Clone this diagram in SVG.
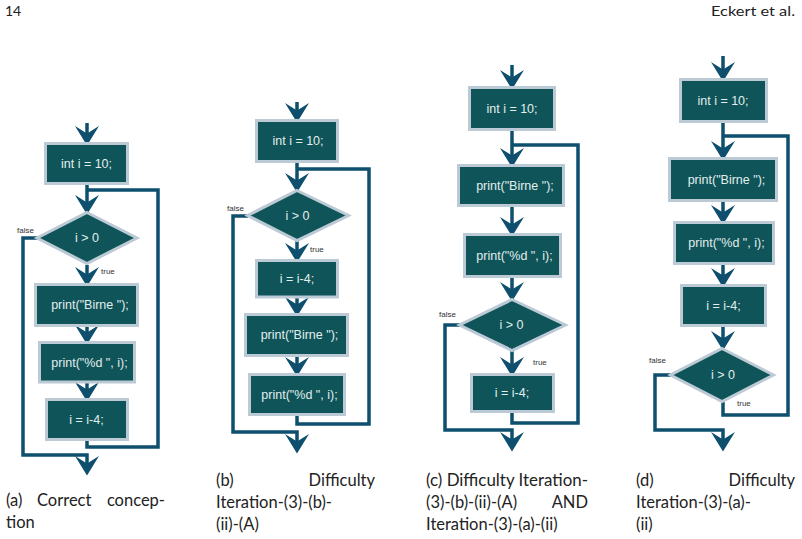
<svg xmlns="http://www.w3.org/2000/svg" width="802" height="539" viewBox="0 0 802 539">
<style>
.box{fill:#0e5458;stroke:#bccad5;stroke-width:3}
.bt{font-family:"Liberation Sans",Arial,sans-serif;font-size:12.5px;fill:#e3eeee;text-anchor:middle}
.lbl{font-family:"Liberation Sans",Arial,sans-serif;font-size:8px;fill:#333}
.con{fill:none;stroke:#0d4f6d;stroke-width:3.5}
.arr{fill:none;stroke:#0d4f6d;stroke-width:3.5;marker-end:url(#ah)}
.cap{font-family:Lato,"Open Sans",sans-serif;font-size:16.5px;fill:#222}
.hdr{font-family:Lato,"Open Sans",sans-serif;font-size:14px;fill:#222}
</style>
<defs>
<marker id="ah" markerUnits="userSpaceOnUse" markerWidth="30" markerHeight="30" viewBox="-10 -10 20 20" refX="0" refY="0" orient="auto" overflow="visible">
<path d="M7,0 L-6,-8 L-1,0 L-6,8 Z" fill="#0d4f6d"/>
</marker>
</defs>
<rect width="802" height="539" fill="#fff"/>
<text class="hdr" x="5" y="16">14</text>
<text class="hdr" x="795" y="16" text-anchor="end" textLength="84" lengthAdjust="spacingAndGlyphs">Eckert et al.</text>

<g id="connectors">
<!-- panel a -->
<path class="arr" d="M87,123 V135"/>
<path class="arr" d="M87,185 V204"/>
<path class="con" d="M87,441 V447 H158 V190 H87"/>
<path class="arr" d="M37,238 H23 V455 H87 V465"/>
<path class="arr" d="M87,265 V276"/>
<path class="arr" d="M87,327 V334"/>
<path class="arr" d="M87,383 V391"/>
<!-- panel b -->
<path class="arr" d="M297,102 V112"/>
<path class="arr" d="M297,163 V182"/>
<path class="con" d="M297,416 V424 H369 V169 H297"/>
<path class="arr" d="M248,216 H233 V432 H297 V443"/>
<path class="arr" d="M297,241 V252"/>
<path class="arr" d="M297,298 V306"/>
<path class="arr" d="M297,357 V366"/>
<!-- panel c -->
<path class="arr" d="M512,65 V79"/>
<path class="arr" d="M512,131 V157"/>
<path class="con" d="M512,413 V423 H578 V145 H512"/>
<path class="arr" d="M512,207 V226"/>
<path class="arr" d="M512,278 V291"/>
<path class="arr" d="M460,325 H445 V430 H512 V441"/>
<path class="arr" d="M512,351 V366"/>
<!-- panel d -->
<path class="arr" d="M723,56 V71"/>
<path class="arr" d="M723,123 V150"/>
<path class="con" d="M723,402 V415 H788 V136 H723"/>
<path class="arr" d="M723,202 V214"/>
<path class="arr" d="M723,265 V277"/>
<path class="arr" d="M723,327 V340"/>
<path class="arr" d="M671,375 H655 V430 H723 V441"/>
</g>

<!-- panel a nodes -->
<g id="a-init"><rect class="box" x="45.5" y="143.5" width="82" height="40"/><text class="bt" x="86.5" y="167.5">int i = 10;</text></g>
<g id="a-cond"><polygon class="box" points="87,212.5 137,238 87,263.5 37,238"/><text class="bt" x="87" y="242">i &gt; 0</text>
<text class="lbl" x="17" y="233">false</text><text class="lbl" x="101" y="274">true</text></g>
<g id="a-birne"><rect class="box" x="35.5" y="284.5" width="102" height="41"/><text class="bt" x="90" y="309">print("Birne ");</text></g>
<g id="a-print"><rect class="box" x="39.5" y="342.5" width="95" height="39.5"/><text class="bt" x="89.5" y="366.5">print("%d ", i);</text></g>
<g id="a-dec"><rect class="box" x="46.5" y="399.5" width="81" height="40"/><text class="bt" x="86.5" y="423.5">i = i-4;</text></g>

<!-- panel b nodes -->
<g id="b-init"><rect class="box" x="256.5" y="120.5" width="81" height="41"/><text class="bt" x="298" y="145">int i = 10;</text></g>
<g id="b-cond"><polygon class="box" points="297,190.5 348.5,215.5 297,240.5 247.5,215.5"/><text class="bt" x="297.5" y="219.5">i &gt; 0</text>
<text class="lbl" x="227" y="211">false</text><text class="lbl" x="310" y="252">true</text></g>
<g id="b-dec"><rect class="box" x="256.5" y="260.5" width="81" height="36.5"/><text class="bt" x="297" y="282.5">i = i-4;</text></g>
<g id="b-birne"><rect class="box" x="245.5" y="314.5" width="102" height="41"/><text class="bt" x="299.5" y="339">print("Birne ");</text></g>
<g id="b-print"><rect class="box" x="249.5" y="374.5" width="95" height="40"/><text class="bt" x="299.5" y="398.5">print("%d ", i);</text></g>

<!-- panel c nodes -->
<g id="c-init"><rect class="box" x="469.5" y="87.5" width="85" height="42"/><text class="bt" x="512" y="112.5">int i = 10;</text></g>
<g id="c-birne"><rect class="box" x="458.5" y="165.5" width="105" height="40"/><text class="bt" x="515" y="189.5">print("Birne ");</text></g>
<g id="c-print"><rect class="box" x="464.5" y="234.5" width="96" height="42"/><text class="bt" x="514.5" y="259.5">print("%d ", i);</text></g>
<g id="c-cond"><polygon class="box" points="512,299.5 565.5,325 512,350.5 459.5,325"/><text class="bt" x="511.5" y="329">i &gt; 0</text>
<text class="lbl" x="439" y="317">false</text><text class="lbl" x="533" y="365">true</text></g>
<g id="c-dec"><rect class="box" x="471.5" y="374.5" width="82" height="37"/><text class="bt" x="512" y="397">i = i-4;</text></g>

<!-- panel d nodes -->
<g id="d-init"><rect class="box" x="680.5" y="79.5" width="86" height="42"/><text class="bt" x="723" y="104.5">int i = 10;</text></g>
<g id="d-birne"><rect class="box" x="669.5" y="158.5" width="107" height="42"/><text class="bt" x="726.5" y="183.5">print("Birne ");</text></g>
<g id="d-print"><rect class="box" x="674.5" y="222.5" width="99" height="41"/><text class="bt" x="726.5" y="247">print("%d ", i);</text></g>
<g id="d-dec"><rect class="box" x="681.5" y="285.5" width="84" height="40"/><text class="bt" x="723.5" y="309.5">i = i-4;</text></g>
<g id="d-cond"><polygon class="box" points="722,348.5 773.5,375 722,401.5 670.5,375"/><text class="bt" x="723" y="379">i &gt; 0</text>
<text class="lbl" x="649" y="363">false</text><text class="lbl" x="737" y="406">true</text></g>

<!-- captions -->
<g id="captions">
<text class="cap" x="6" y="506">(a)</text>
<text class="cap" x="37" y="506">Correct</text>
<text class="cap" x="165" y="506" text-anchor="end">concep-</text>
<text class="cap" x="6" y="528">tion</text>
<text class="cap" x="216" y="486">(b)</text>
<text class="cap" x="375" y="486" text-anchor="end">Difficulty</text>
<text class="cap" x="216" y="508">Iteration-(3)-(b)-</text>
<text class="cap" x="216" y="530">(ii)-(A)</text>
<text class="cap" x="426" y="486" textLength="162" lengthAdjust="spacingAndGlyphs">(c) Difficulty Iteration-</text>
<text class="cap" x="426" y="508">(3)-(b)-(ii)-(A)</text>
<text class="cap" x="588" y="508" text-anchor="end">AND</text>
<text class="cap" x="426" y="530">Iteration-(3)-(a)-(ii)</text>
<text class="cap" x="636" y="486">(d)</text>
<text class="cap" x="795" y="486" text-anchor="end">Difficulty</text>
<text class="cap" x="636" y="508">Iteration-(3)-(a)-</text>
<text class="cap" x="636" y="530">(ii)</text>
</g>
</svg>
